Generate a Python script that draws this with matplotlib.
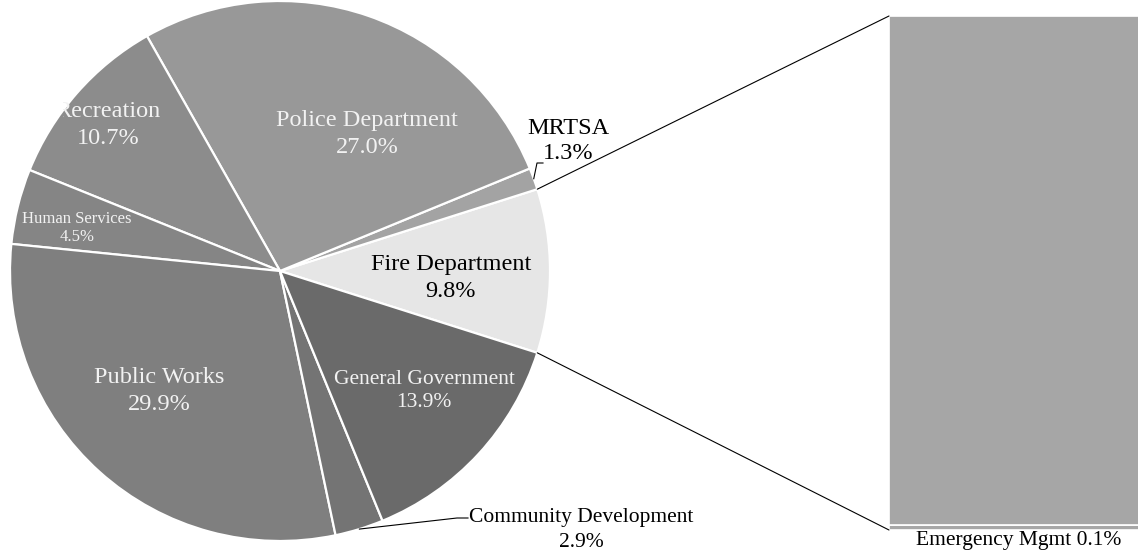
import numpy as np
import matplotlib.pyplot as plt
from matplotlib.patches import ConnectionPatch
from matplotlib.transforms import Bbox, TransformedBbox

plt.rcParams['font.family'] = ['Liberation Serif', 'DejaVu Serif']

# departments, counter-clockwise starting from Fire Department
departments = ['Fire Department', 'MRTSA', 'Police Department', 'Recreation',
               'Human Services', 'Public Works', 'Community Development',
               'General Government']
shares = [9.8, 1.3, 27.0, 10.7, 4.5, 29.9, 2.9, 13.9]
slice_colors = ['#e6e6e6', '#a3a3a3', '#989898', '#8c8c8c',
                '#858585', '#7f7f7f', '#747474', '#6a6a6a']

# breakdown of the fire department share
fire_items = ['Emergency Mgmt', 'Fire Protection']
fire_shares = [0.1, 9.7]

W, H = 1138, 552
fig = plt.figure(figsize=(W / 100, H / 100), dpi=100)
ax = fig.add_axes([0, 0, 1, 1])

cx, cy, R = 280, 281, 270
start = -shares[0] / 100 * 360 / 2
wedges, _ = ax.pie(shares, colors=slice_colors, startangle=start, counterclock=True,
                   center=(cx, cy), radius=R,
                   wedgeprops=dict(edgecolor='white', linewidth=1.6))
ax.set_xlim(0, W)
ax.set_ylim(0, H)
ax.set_aspect('equal')
ax.axis('off')


def pct(v):
    return f'{v:.1f}%'


light = '#f2f2f2'
ax.text(367, 418, f'{departments[2]}\n{pct(shares[2])}', ha='center', va='center',
        fontsize=17.5, color=light, linespacing=1.38)
rec = ax.text(108, 427, f'{departments[3]}\n{pct(shares[3])}', ha='center', va='center',
              fontsize=17.5, color=light, linespacing=1.36)
rec.set_clip_on(True)
rec.set_clip_box(TransformedBbox(Bbox([[63, 0], [W, H]]), ax.transData))
ax.text(77, 324, f'{departments[4]}\n{pct(shares[4])}', ha='center', va='center',
        fontsize=12, color=light, linespacing=1.12)
ax.text(159, 161, f'{departments[5]}\n{pct(shares[5])}', ha='center', va='center',
        fontsize=17.5, color=light, linespacing=1.36)
ax.text(424, 161, f'{departments[7]}\n{pct(shares[7])}', ha='center', va='center',
        fontsize=15.5, color=light, linespacing=1.3)
ax.text(451, 274, f'{departments[0]}\n{pct(shares[0])}', ha='center', va='center',
        fontsize=17.5, color='black', linespacing=1.32)
ax.text(568, 411, f'{departments[1]}\n{pct(shares[1])}', ha='center', va='center',
        fontsize=17.5, color='black', linespacing=1.3)
ax.text(581, 22, f'{departments[6]}\n{pct(shares[6])}', ha='center', va='center',
        fontsize=15.5, color='black', linespacing=1.42)


def rim(w):
    a = np.deg2rad((w.theta1 + w.theta2) / 2)
    return cx + R * np.cos(a), cy + R * np.sin(a)


# leader lines for the thin slices
x0, y0 = rim(wedges[1])
ax.plot([x0, 537, 543], [y0, 389, 389], color='black', lw=0.8)
x0, y0 = rim(wedges[6])
ax.plot([x0, 457, 468], [y0, 34, 34], color='black', lw=0.8)

# stacked bar for the fire department breakdown
bx0, by0, bh = 889, 22, 514
ax2 = fig.add_axes([bx0 / W, by0 / H, 300 / W, bh / H])
bottom = 0
for item, v in zip(fire_items, fire_shares):
    ax2.bar(0, v, width=1, bottom=bottom, align='edge', color='#a6a6a6',
            edgecolor='white', linewidth=1.2)
    bottom += v
ax2.set_xlim(0, 1)
ax2.set_ylim(0, sum(fire_shares))
ax2.axis('off')

ax.text(1017, 280, f'{fire_items[1]} {pct(fire_shares[1])}', ha='center', va='center',
        fontsize=17.5, color='black')
ax.text(1019, 12, f'{fire_items[0]} {pct(fire_shares[0])}', ha='center', va='center',
        fontsize=15.5, color='black')

# lines joining the fire slice to the bar
fw = wedges[0]
for ang, yb in [(fw.theta2, sum(fire_shares)), (fw.theta1, 0)]:
    a = np.deg2rad(ang)
    con = ConnectionPatch(xyA=(cx + R * np.cos(a), cy + R * np.sin(a)), coordsA=ax.transData,
                          xyB=(0, yb), coordsB=ax2.transData, color='black', lw=0.8)
    fig.add_artist(con)

fig.savefig('out.png', dpi=100)
